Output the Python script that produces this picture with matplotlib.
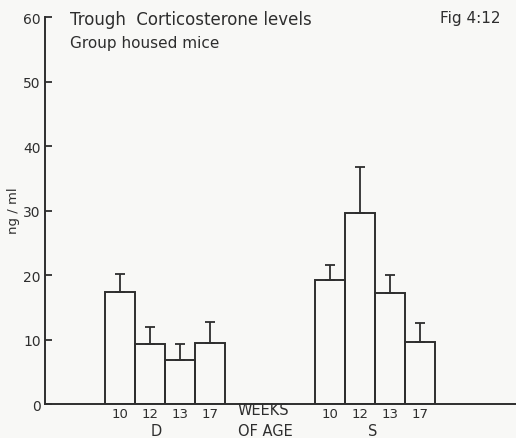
import numpy as np
import matplotlib
matplotlib.use("Agg")
import matplotlib.pyplot as plt

plt.rcParams['font.family'] = ['DejaVu Sans']

# trough corticosterone, group housed mice (ng/ml)
weeks = ["10", "12", "13", "17"]
d_mean = [17.4, 9.3, 6.8, 9.4]
d_upper = [20.2, 11.9, 9.3, 12.7]
s_mean = [19.2, 29.6, 17.2, 9.6]
s_upper = [21.6, 36.7, 20.0, 12.5]

ink = '#2e2e2e'
bg = '#f8f8f6'

fig = plt.figure(figsize=(5.16, 4.39), dpi=100, facecolor=bg)
ax = fig.add_axes([0.0872, 0.0774, 0.9128, 0.8815], facecolor=bg)

d_x = 2.5 + np.arange(len(weeks))
s_x = 9.5 + np.arange(len(weeks))

for xs, mean, upper in ((d_x, d_mean, d_upper), (s_x, s_mean, s_upper)):
    mean = np.array(mean)
    err = np.array(upper) - mean
    ax.bar(xs, mean, width=1.0, facecolor='none', edgecolor=ink, lw=1.4, zorder=3)
    ax.errorbar(xs, mean, yerr=[np.zeros_like(err), err], fmt='none',
                ecolor=ink, elinewidth=1.3, capsize=3.5, capthick=1.3, zorder=2)

ax.set_xlim(0, 15.7)
ax.set_ylim(0, 60)
ax.set_xticks(np.concatenate([d_x, s_x]))
ax.set_xticklabels(weeks + weeks, fontsize=9.5, color=ink)
ax.tick_params(axis='x', length=0, pad=2)
ax.set_yticks(range(0, 61, 10))
ax.tick_params(axis='y', direction='in', length=5, width=1.3, colors=ink,
               labelsize=10, pad=3)
for s in ('top', 'right'):
    ax.spines[s].set_visible(False)
for s in ('left', 'bottom'):
    ax.spines[s].set_color(ink)
    ax.spines[s].set_linewidth(1.4)

fig.text(0.026, 0.52, "ng / ml", fontsize=9.5, color=ink, rotation=90,
         ha='center', va='center')
fig.text(0.136, 0.975, "Trough  Corticosterone levels", fontsize=12, color=ink, va='top')
fig.text(0.136, 0.918, "Group housed mice", fontsize=11, color=ink, va='top')
fig.text(0.853, 0.975, "Fig 4:12", fontsize=11, color=ink, va='top')
fig.text(0.291, 0.0, "D", fontsize=10.5, color=ink, va='bottom')
fig.text(0.461, 0.047, "WEEKS", fontsize=10.5, color=ink, va='bottom')
fig.text(0.461, 0.0, "OF AGE", fontsize=10.5, color=ink, va='bottom')
fig.text(0.713, 0.0, "S", fontsize=10.5, color=ink, va='bottom')

fig.savefig("out.png", dpi=100, facecolor=bg)
